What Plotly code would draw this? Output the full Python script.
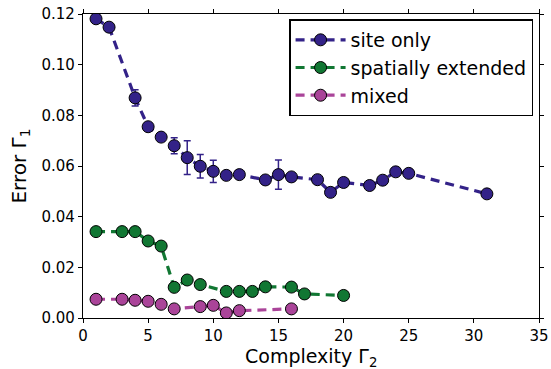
import plotly.graph_objects as go

# ---- data ----
site_x = [1, 2, 4, 5, 6, 7, 8, 9, 10, 11, 12, 14, 15, 16, 18, 19, 20, 22, 23, 24, 25, 31]
site_y = [0.1181, 0.1148, 0.0869, 0.0755, 0.0714, 0.0680, 0.0633, 0.0599, 0.0579, 0.0563,
          0.0566, 0.0545, 0.0566, 0.0557, 0.0546, 0.0496, 0.0535, 0.0523, 0.0544, 0.0577,
          0.0571, 0.0490]
site_err = [0.0005, 0.0008, 0.0032, 0.0008, 0.0008, 0.0032, 0.0067, 0.0046, 0.0044, 0.0008,
            0.0008, 0.0010, 0.0058, 0.0008, 0.0006, 0.0006, 0.0006, 0.0006, 0.0006, 0.0006,
            0.0006, 0.0006]

ext_x = [1, 3, 4, 5, 6, 7, 8, 9, 11, 12, 13, 14, 16, 17, 20]
ext_y = [0.0341, 0.0341, 0.0341, 0.0304, 0.0284, 0.0121, 0.0150, 0.0132, 0.0105, 0.0105,
         0.0105, 0.0123, 0.0122, 0.0095, 0.0089]
ext_err = [0.0004] * len(ext_x)

mix_x = [1, 3, 4, 5, 6, 7, 9, 10, 11, 12, 16]
mix_y = [0.0074, 0.0074, 0.0070, 0.0066, 0.0054, 0.0036, 0.0045, 0.0050, 0.0020, 0.0029, 0.0036]
mix_err = [0.0004] * len(mix_x)

series = [
    ("site only", site_x, site_y, site_err, "#332288"),
    ("spatially extended", ext_x, ext_y, ext_err, "#117733"),
    ("mixed", mix_x, mix_y, mix_err, "#AA4499"),
]

x_ticks = [0, 5, 10, 15, 20, 25, 30, 35]
y_ticks = [0.00, 0.02, 0.04, 0.06, 0.08, 0.10, 0.12]

x_title = "Complexity Γ<sub>2</sub>"
y_title = "Error Γ<sub>1</sub>"

fig = go.Figure()
for name, xs, ys, es, col in series:
    fig.add_trace(go.Scatter(
        x=xs, y=ys, name=name, mode="lines+markers",
        line=dict(color=col, width=3.2, dash="9px,6px"),
        marker=dict(size=12, color=col, line=dict(color="black", width=1)),
        error_y=dict(type="data", array=es, visible=True, color=col, thickness=1.5, width=3.5),
    ))

axis_common = dict(
    showgrid=False, zeroline=False, showline=True, linecolor="black", linewidth=1.2,
    mirror="ticks", ticks="outside", ticklen=4, tickcolor="black", tickwidth=1,
    tickfont=dict(family="DejaVu Sans", size=15, color="black"),
    automargin=False,
)

fig.update_layout(
    width=551, height=369,
    margin=dict(l=83, r=12, t=14, b=51),
    paper_bgcolor="white", plot_bgcolor="white",
    font=dict(family="DejaVu Sans", color="black"),
    xaxis=dict(range=[0, 35], tickvals=x_ticks, ticktext=[str(v) for v in x_ticks],
               **axis_common),
    yaxis=dict(range=[0, 0.12], tickvals=y_ticks, ticktext=["%.2f" % v for v in y_ticks],
               title=dict(text=y_title, font=dict(size=20), standoff=9),
               **axis_common),
    legend=dict(x=0.987, y=0.982, xanchor="right", yanchor="top",
                bgcolor="white", bordercolor="black", borderwidth=1.5,
                itemwidth=50,
                font=dict(family="DejaVu Sans", size=19, color="black")),
    showlegend=True,
    annotations=[dict(text=x_title, xref="paper", yref="paper", x=0.5, y=-0.131,
                      xanchor="center", yanchor="middle", showarrow=False,
                      font=dict(family="DejaVu Sans", size=19, color="black"))],
)

fig.write_html("out.html")
